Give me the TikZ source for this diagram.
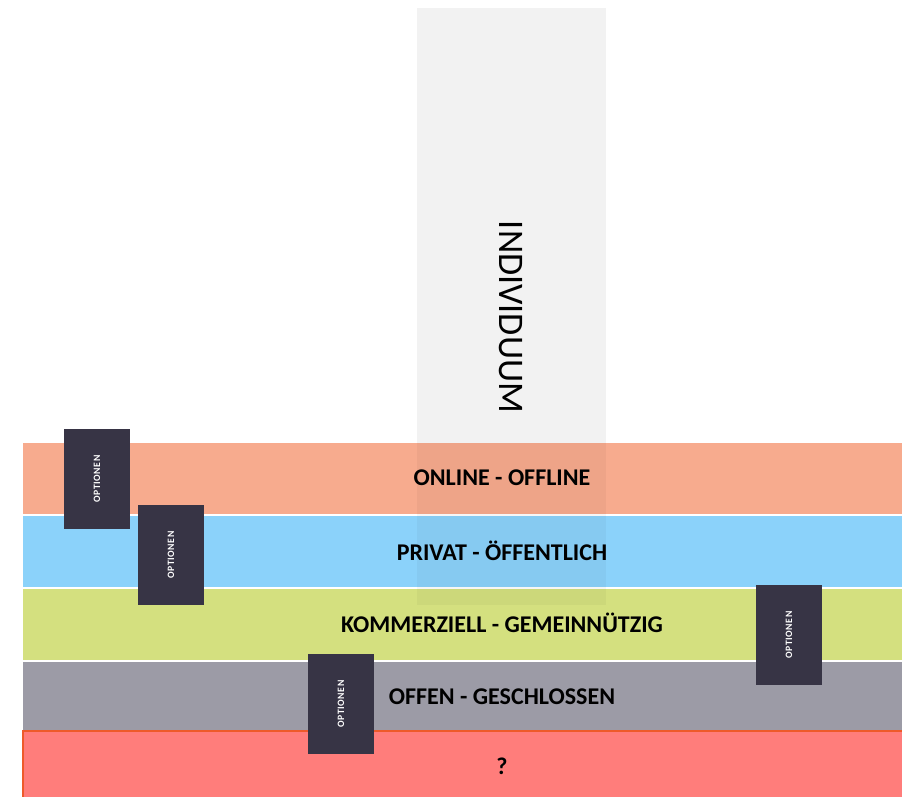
\documentclass[tikz,border=0pt]{standalone}
\usepackage{fontspec}
\setmainfont{Carlito}
\newfontfamily\optfont[LetterSpace=6]{Carlito}
\definecolor{bandorange}{HTML}{F7AB8E}
\definecolor{bandblue}{HTML}{8BD2FA}
\definecolor{bandgreen}{HTML}{D4E07F}
\definecolor{bandgrey}{HTML}{9C9BA6}
\definecolor{bandred}{HTML}{FF7D7B}
\definecolor{redborder}{HTML}{EE5A2A}
\definecolor{optbox}{HTML}{373445}
\definecolor{colgrey}{HTML}{F2F2F2}
\begin{document}
\begin{tikzpicture}[x=0.75pt,y=-0.75pt,
  band/.style={inner sep=0pt, outer sep=0pt, anchor=north west, minimum width={879*0.75pt}, minimum height={71*0.75pt}},
  bandlabel/.style={font=\fontsize{18}{21}\selectfont\bfseries, text=black, inner sep=0pt},
  optionbox/.style={fill=optbox, inner sep=0pt, minimum width={66*0.75pt}, minimum height={100*0.75pt}},
  optionlabel/.style={font=\optfont\fontsize{7.3}{8}\selectfont\bfseries, text=white, rotate=90, inner sep=0pt}]
\useasboundingbox (0,0) rectangle (902,796);
\clip (0,0) rectangle (902,796);
% column
\fill[colgrey] (417,8) rectangle (606,443);
% bands
\node[band, fill=bandorange] (online) at (23,443) {};
\node[band, fill=bandblue] (privat) at (23,516) {};
\node[band, fill=bandgreen] (kommerz) at (23,589) {};
\node[band, fill=bandgrey, minimum height={69*0.75pt}] (offen) at (23,662) {};
\node[band, fill=bandred, draw=redborder, line width=1.8pt, minimum width={900*0.75pt}, minimum height={80*0.75pt}] (frage) at (23,731) {};
% column seen through bands
\fill[black, opacity=0.035] (417,443) rectangle (606,605);
% column label
\node[font=\fontsize{27}{30}\selectfont, rotate=-90, inner sep=0pt] (indiv) at (511,317) {INDIVIDUUM};
% band labels
\node[bandlabel] (l1) at (502,478) {ONLINE - OFFLINE};
\node[bandlabel] (l2) at (502,551) {PRIVAT - ÖFFENTLICH};
\node[bandlabel] (l3) at (502,623) {KOMMERZIELL - GEMEINNÜTZIG};
\node[bandlabel] (l4) at (502,697) {OFFEN - GESCHLOSSEN};
\node[bandlabel] (l5) at (502,766) {?};
% option boxes
\node[optionbox] (o1) at (97,479) {};
\node[optionlabel] (t1) at (o1) {OPTIONEN};
\node[optionbox] (o2) at (171,555) {};
\node[optionlabel] (t2) at (o2) {OPTIONEN};
\node[optionbox] (o3) at (789,635) {};
\node[optionlabel] (t3) at (o3) {OPTIONEN};
\node[optionbox] (o4) at (341,704) {};
\node[optionlabel] (t4) at (o4) {OPTIONEN};
\end{tikzpicture}
\end{document}
